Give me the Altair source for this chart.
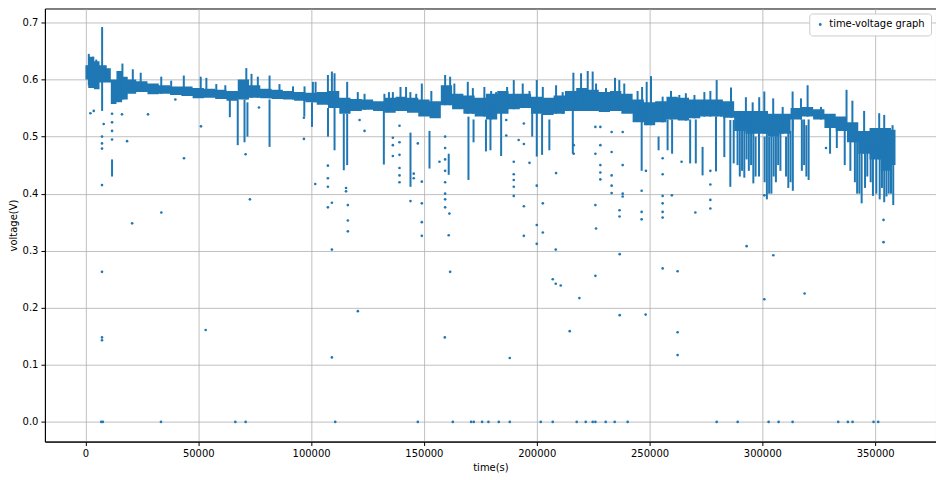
import altair as alt
import pandas as pd

BLUE = "#1f77b4"
FONT = "DejaVu Sans"

# ---- dense core band of the scatter (time s, lower V, upper V) ----
band_t = [0, 2500, 5000, 7500, 10000, 12500, 15000, 17500, 20000, 25000, 30000, 35000,
          40000, 45000, 50000, 55000, 60000, 65000, 70000, 75000, 80000, 85000, 90000,
          95000, 100000, 105000, 110000, 115000, 120000, 125000, 130000, 135000, 140000,
          145000, 150000, 155000, 160000, 165000, 170000, 175000, 180000, 185000, 190000,
          195000, 200000, 205000, 210000, 215000, 220000, 225000, 230000, 235000, 240000,
          245000, 250000, 255000, 260000, 265000, 270000, 275000, 280000, 285000, 290000,
          295000, 300000, 305000, 310000, 315000, 320000, 325000, 330000, 335000, 340000,
          345000, 350000, 355000, 359000]
band_lo = [0.600, 0.585, 0.583, 0.595, 0.595, 0.557, 0.560, 0.565, 0.575, 0.578, 0.574, 0.575,
           0.573, 0.571, 0.567, 0.568, 0.566, 0.563, 0.565, 0.568, 0.567, 0.566, 0.565,
           0.563, 0.560, 0.556, 0.550, 0.540, 0.545, 0.547, 0.545, 0.542, 0.545,
           0.542, 0.535, 0.532, 0.555, 0.548, 0.540, 0.535, 0.530, 0.540, 0.548,
           0.550, 0.540, 0.538, 0.540, 0.545, 0.545, 0.545, 0.543, 0.545, 0.540,
           0.525, 0.520, 0.525, 0.530, 0.528, 0.532, 0.535, 0.535, 0.533, 0.510,
           0.505, 0.505, 0.500, 0.505, 0.530, 0.535, 0.530, 0.515, 0.510, 0.490,
           0.470, 0.460, 0.440, 0.450]
band_hi = [0.625, 0.640, 0.632, 0.625, 0.620, 0.600, 0.615, 0.605, 0.600, 0.597, 0.593, 0.590,
           0.588, 0.588, 0.585, 0.584, 0.582, 0.580, 0.600, 0.590, 0.584, 0.582, 0.580,
           0.578, 0.577, 0.578, 0.580, 0.568, 0.566, 0.565, 0.562, 0.568, 0.570,
           0.568, 0.565, 0.562, 0.590, 0.575, 0.572, 0.568, 0.575, 0.580, 0.575,
           0.575, 0.570, 0.568, 0.572, 0.580, 0.585, 0.582, 0.578, 0.580, 0.575,
           0.565, 0.560, 0.562, 0.570, 0.568, 0.565, 0.565, 0.565, 0.562, 0.545,
           0.545, 0.545, 0.540, 0.540, 0.550, 0.552, 0.548, 0.540, 0.535, 0.525,
           0.510, 0.515, 0.515, 0.512]

# ---- vertical streaks of densely packed samples (time s, lower V, upper V) ----
spike_t = [1500, 3500, 4800, 7400, 9000, 16400, 21000, 24500, 33600, 38000, 43600, 51100,
           53600, 58000, 62000, 71300, 73600, 76400, 81600, 86000, 92000, 97100, 100800,
           102000, 107460, 109230, 110400, 116000, 120700, 123700, 132500, 134500, 136240,
           139630, 142100, 144000, 146600, 149080, 153300, 159410, 161630, 163500, 169450,
           171700, 176800, 179800, 182000, 186880, 189830, 193800, 196800, 200020, 202700,
           208580, 211500, 216250, 219650, 222600, 224800, 226300, 230700, 234700, 236600,
           238800, 244700, 246700, 248730, 250650, 255800, 259500, 263200, 266100, 269900,
           274300, 276950, 279750, 281700, 286100, 292700, 295700, 298600, 300860, 304800,
           309000, 313400, 317100, 320050, 326000, 337300, 339900, 345100, 351780, 354000,
           357700,
           11800, 64000, 67500, 70500, 71800, 81600, 97000, 100400, 107500, 110400, 114500,
           116000, 132250, 144060, 152480, 161000, 169750, 172000, 177500, 179500, 184230,
           198000, 200020, 202380, 205600, 216000, 246510, 254000, 258000, 260000, 268000,
           270500, 273500, 279450, 283140, 285800, 287300, 290000, 292000, 294000, 296000,
           298500, 302000, 304000, 306000, 308000, 311500, 313500, 317500, 320500, 330000,
           333000, 336500, 339000, 342000, 344000, 346500, 349000, 352000, 354000, 356000,
           358000,
           289000, 291000, 293000, 295000, 297000, 301000, 303000, 305000, 307000, 310500,
           312500, 318500, 319500, 341000, 343000, 345500, 348000, 350500, 353000, 355000,
           357000]
spike_lo = [0.590, 0.590, 0.590, 0.545, 0.600, 0.565, 0.580, 0.580, 0.575, 0.575, 0.573, 0.570,
            0.570, 0.568, 0.566, 0.565, 0.568, 0.568, 0.567, 0.566, 0.565, 0.563, 0.560,
            0.560, 0.556, 0.550, 0.550, 0.545, 0.545, 0.547, 0.545, 0.545, 0.545,
            0.545, 0.545, 0.545, 0.545, 0.540, 0.535, 0.555, 0.555, 0.550, 0.540,
            0.540, 0.535, 0.530, 0.540, 0.545, 0.548, 0.550, 0.550, 0.540, 0.540,
            0.540, 0.540, 0.545, 0.545, 0.545, 0.545, 0.545, 0.543, 0.545, 0.545,
            0.545, 0.530, 0.525, 0.520, 0.520, 0.525, 0.530, 0.530, 0.528, 0.532,
            0.535, 0.535, 0.535, 0.535, 0.533, 0.510, 0.505, 0.505, 0.505, 0.500,
            0.505, 0.510, 0.530, 0.535, 0.530, 0.510, 0.490, 0.470, 0.460, 0.450,
            0.450,
            0.430, 0.534, 0.485, 0.490, 0.500, 0.482, 0.535, 0.517, 0.500, 0.476, 0.441,
            0.450, 0.451, 0.412, 0.444, 0.433, 0.424, 0.490, 0.474, 0.476, 0.466,
            0.500, 0.465, 0.468, 0.476, 0.470, 0.440, 0.476, 0.476, 0.470, 0.453,
            0.453, 0.432, 0.439, 0.464, 0.412, 0.453, 0.430, 0.428, 0.440, 0.418,
            0.430, 0.390, 0.400, 0.420, 0.440, 0.410, 0.405, 0.440, 0.424, 0.470,
            0.480, 0.450, 0.440, 0.400, 0.383, 0.430, 0.396, 0.390, 0.385, 0.400,
            0.380,
            0.450, 0.440, 0.460, 0.450, 0.430, 0.420, 0.400, 0.430, 0.450, 0.430,
            0.420, 0.450, 0.430, 0.420, 0.400, 0.410, 0.420, 0.400, 0.410, 0.395,
            0.400]
spike_hi = [0.645, 0.640, 0.635, 0.692, 0.625, 0.628, 0.618, 0.612, 0.605, 0.598, 0.607, 0.605,
            0.603, 0.592, 0.590, 0.620, 0.610, 0.605, 0.607, 0.592, 0.588, 0.588, 0.596,
            0.596, 0.608, 0.614, 0.611, 0.596, 0.578, 0.575, 0.575, 0.578, 0.578,
            0.587, 0.587, 0.578, 0.575, 0.593, 0.580, 0.608, 0.605, 0.593, 0.596,
            0.585, 0.587, 0.580, 0.578, 0.587, 0.599, 0.593, 0.580, 0.599, 0.587,
            0.590, 0.578, 0.612, 0.611, 0.615, 0.614, 0.593, 0.585, 0.603, 0.599,
            0.593, 0.580, 0.587, 0.596, 0.606, 0.570, 0.580, 0.573, 0.576, 0.573,
            0.578, 0.580, 0.599, 0.564, 0.586, 0.569, 0.560, 0.569, 0.579, 0.567,
            0.552, 0.579, 0.567, 0.590, 0.552, 0.582, 0.563, 0.545, 0.541, 0.538,
            0.520,
            0.460, 0.565, 0.565, 0.565, 0.560, 0.565, 0.565, 0.560, 0.550, 0.550, 0.540,
            0.540, 0.545, 0.507, 0.510, 0.470, 0.535, 0.530, 0.530, 0.550, 0.550,
            0.550, 0.540, 0.540, 0.530, 0.545, 0.540, 0.500, 0.530, 0.530, 0.530,
            0.530, 0.482, 0.535, 0.541, 0.529, 0.529, 0.540, 0.530, 0.520, 0.530,
            0.520, 0.510, 0.510, 0.510, 0.510, 0.520, 0.530, 0.530, 0.530, 0.530,
            0.520, 0.530, 0.520, 0.510, 0.505, 0.480, 0.490, 0.500, 0.500, 0.510,
            0.510,
            0.520, 0.510, 0.520, 0.510, 0.500, 0.500, 0.500, 0.500, 0.510, 0.500,
            0.510, 0.530, 0.520, 0.500, 0.490, 0.480, 0.480, 0.490, 0.490, 0.500,
            0.500]

# ---- isolated samples (time s, voltage V) ----
pt_t = [7000, 7700, 33480, 66430, 71000, 110700, 147310, 162810, 170930, 172100, 175800,
        178600, 183190, 188060, 201790, 207100, 217730, 221720, 224800, 226000, 230570,
        234560, 240310, 279750, 289050, 302770, 307200, 313400, 333620, 337900, 339970,
        349270, 351340,
        7350, 7350, 7350, 53280, 109230, 161630, 120740, 109230, 159270, 200020, 208430,
        236770, 255810, 262450, 207100, 208430, 210650, 226000, 218910, 236770, 248280,
        214630, 262450, 262450, 188060, 293030, 304840, 318720, 300860, 353700, 353700,
        2200, 3680, 7350, 7350, 7350, 7350, 8100, 11800, 11800, 11800, 11800, 16200, 18450,
        20700, 27740, 33640, 39840, 43680, 51210, 70990, 72900, 76900,
        96830, 96830, 101850, 107460, 107460, 107460, 107460, 109230, 115500, 115500, 116300,
        116300, 116300, 121500, 123700, 136240, 136240, 136240, 139190, 139190, 139190,
        139190, 139190, 139190, 144060, 145500, 145500, 147300, 149080, 149080, 149080,
        149080, 156900, 159410, 159410, 159410, 159410, 159410, 159410, 159410, 159410,
        161300, 161000,
        189830, 189830, 189830, 189830, 189830, 186500, 186500, 192000, 194300, 194300,
        194300, 194300, 196800, 200020, 200020, 202700, 202700, 208580, 216400, 216400,
        226000, 226000, 226000, 226300, 228200, 228200, 228200, 228200, 228200, 233200,
        233200, 233200, 233200, 233200, 236700, 236700, 238100, 238100, 238100, 238100,
        246500, 246500, 246500, 248400, 255800, 255800, 255800, 255800, 255800, 255800,
        259900, 264200, 270300, 276950, 276950, 276950, 276950, 300860, 328200]
pt_v = [0.0] * 33 + [
        0.263, 0.148, 0.143, 0.161, 0.302, 0.263, 0.194, 0.113, 0.148, 0.312, 0.302,
        0.294, 0.269, 0.264, 0.250, 0.242, 0.239, 0.256, 0.217, 0.187, 0.188,
        0.159, 0.157, 0.117, 0.112, 0.308, 0.292, 0.225, 0.215, 0.315, 0.354,
        0.541, 0.545, 0.500, 0.488, 0.479, 0.415, 0.522, 0.540, 0.525, 0.510, 0.495, 0.539, 0.492,
        0.348, 0.539, 0.367, 0.565, 0.462, 0.518, 0.469, 0.390, 0.551,
        0.533, 0.496, 0.417, 0.449, 0.427, 0.412, 0.376, 0.384, 0.410, 0.404, 0.380,
        0.353, 0.334, 0.529, 0.510, 0.498, 0.485, 0.466, 0.519, 0.490, 0.468,
        0.445, 0.432, 0.420, 0.387, 0.435, 0.427, 0.488, 0.421, 0.383, 0.350,
        0.326, 0.456, 0.500, 0.480, 0.460, 0.440, 0.420, 0.400, 0.390, 0.376,
        0.365, 0.327,
        0.456, 0.434, 0.424, 0.412, 0.396, 0.529, 0.502, 0.494, 0.523, 0.487,
        0.378, 0.326, 0.454, 0.414, 0.345, 0.383, 0.332, 0.436, 0.485, 0.470,
        0.517, 0.470, 0.380, 0.339, 0.517, 0.485, 0.450, 0.437, 0.425, 0.508,
        0.473, 0.432, 0.414, 0.401, 0.371, 0.360, 0.508, 0.450, 0.400, 0.395,
        0.405, 0.368, 0.355, 0.440, 0.462, 0.434, 0.396, 0.383, 0.368, 0.358,
        0.397, 0.456, 0.367, 0.440, 0.416, 0.389, 0.374, 0.397, 0.480]

series_name = "time-voltage graph"
x_ticks = [0, 50000, 100000, 150000, 200000, 250000, 300000, 350000]
y_ticks = [0.0, 0.1, 0.2, 0.3, 0.4, 0.5, 0.6, 0.7]

band_df = pd.DataFrame({"t": band_t, "lo": band_lo, "hi": band_hi})
spike_df = pd.DataFrame({"t": spike_t, "lo": spike_lo, "hi": spike_hi})
pt_df = pd.DataFrame({"t": pt_t, "v": pt_v, "series": series_name})

xs = alt.Scale(domain=[-17950, 376950], nice=False, zero=False)
ys = alt.Scale(domain=[-0.0345, 0.7245], nice=False, zero=False)
xax = alt.Axis(values=x_ticks, format="d", title="time(s)")
yax = alt.Axis(values=y_ticks, format=".1f", title="voltage(V)")

band = alt.Chart(band_df).mark_area(color=BLUE, opacity=1, interpolate="step").encode(
    x=alt.X("t:Q", scale=xs, axis=xax),
    y=alt.Y("lo:Q", scale=ys, axis=yax),
    y2="hi:Q",
)
spikes = alt.Chart(spike_df).mark_rule(color=BLUE, strokeWidth=2).encode(
    x=alt.X("t:Q", scale=xs),
    y=alt.Y("lo:Q", scale=ys),
    y2="hi:Q",
)
points = alt.Chart(pt_df).mark_point(filled=True, size=7, opacity=1).encode(
    x=alt.X("t:Q", scale=xs),
    y=alt.Y("v:Q", scale=ys),
    color=alt.Color("series:N", scale=alt.Scale(range=[BLUE]),
                    legend=alt.Legend(title=None, orient="top-right", offset=5,
                                      padding=6, strokeColor="#cccccc", fillColor="white",
                                      cornerRadius=3, symbolSize=8, symbolType="circle",
                                      labelFont=FONT, labelFontSize=10, labelColor="#000000")),
)

chart = alt.layer(band, spikes, points).properties(
    width=893, height=434, padding={"left": 0, "top": 0, "right": 0, "bottom": 0}
).configure_view(
    stroke="#000000", strokeWidth=1
).configure_axis(
    labelFont=FONT, labelFontSize=10, labelColor="#000000",
    titleFont=FONT, titleFontSize=10, titleFontWeight="normal", titleColor="#000000",
    domainColor="#000000", domainWidth=1, tickColor="#000000", tickSize=4,
    labelPadding=3, titlePadding=4,
    gridColor="#b0b0b0", gridWidth=0.8, grid=True,
)

chart.save("out.html", embed_options={"renderer": "svg", "actions": False})
